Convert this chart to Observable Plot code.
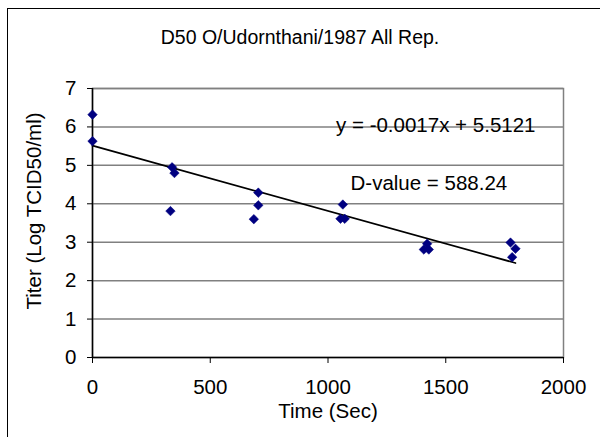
<!DOCTYPE html>
<html>
<head>
<meta charset="utf-8">
<script src="https://cdn.jsdelivr.net/npm/d3@7"></script>
<script src="https://cdn.jsdelivr.net/npm/@observablehq/plot@0.6"></script>
<style>
  html, body { margin: 0; padding: 0; background: #fff; }
  #wrap { position: relative; width: 600px; height: 437px; overflow: hidden; font-family: "Liberation Sans", Arial, sans-serif; }
  #frame { position: absolute; left: 7px; top: 8px; width: 620px; height: 460px; border-left: 1.5px solid #000; border-top: 1.5px solid #000; }
  #title { position: absolute; left: 0; width: 600px; top: 26px; text-align: center; font-size: 19.5px; color: #000; }
  #chart { position: absolute; left: 0; top: 0; }
</style>
</head>
<body>
<div id="wrap">
  <div id="frame"></div>
  <div id="chart"></div>
  <div id="title">D50 O/Udornthani/1987 All Rep.</div>
</div>
<script>
const titleText = "D50 O/Udornthani/1987 All Rep.";
const xLabel = "Time (Sec)";
const yLabel = "Titer (Log TCID50/ml)";
const xTicks = [0, 500, 1000, 1500, 2000];
const yTicks = [0, 1, 2, 3, 4, 5, 6, 7];
const times  = [0, 0, 338, 348, 331, 704, 704, 685, 1063, 1053, 1071, 1421, 1407, 1428, 1775, 1796, 1782];
const titers = [6.32, 5.63, 4.95, 4.80, 3.81, 4.29, 3.96, 3.60, 3.98, 3.61, 3.61, 2.96, 2.81, 2.81, 2.99, 2.83, 2.61];
const slope = -0.0017;
const intercept = 5.5121;
const equationText = "y = -0.0017x + 5.5121";
const dValueText = "D-value = 588.24";

const points = times.map((t, i) => ({time: t, titer: titers[i]}));
const [tMin, tMax] = d3.extent(times);
const trend = [tMin, tMax].map(t => ({time: t, titer: intercept + slope * t}));

const fontSize = 20.5;
const chart = Plot.plot({
  width: 600,
  height: 437,
  marginLeft: 92,
  marginRight: 37,
  marginTop: 88,
  marginBottom: 80,
  style: {fontFamily: '"Liberation Sans", Arial, sans-serif', fontSize: fontSize + "px", background: "transparent", color: "#000"},
  x: {domain: [0, 2000]},
  y: {domain: [0, 7]},
  marks: [
    Plot.frame({stroke: "#808080", strokeWidth: 1.5}),
    Plot.gridY(yTicks.filter(d => d > 0), {stroke: "#808080", strokeOpacity: 1, strokeWidth: 1.5}),
    Plot.ruleY([0], {stroke: "#000", strokeWidth: 1.5}),
    Plot.ruleX([0], {stroke: "#000", strokeWidth: 1.5}),
    Plot.axisX(xTicks, {tickSize: 6, tickPadding: 16, tickFormat: d3.format("d"), label: null, fontSize: fontSize, stroke: "#000"}),
    Plot.axisY(yTicks, {tickSize: 5, tickPadding: 11, tickFormat: d3.format("d"), label: null, fontSize: fontSize, stroke: "#000"}),
    Plot.text([xLabel], {frameAnchor: "bottom", dy: 60, fontSize: fontSize, fill: "#000"}),
    Plot.text([yLabel], {frameAnchor: "left", textAnchor: "middle", dx: -58, dy: -12, rotate: -90, fontSize: fontSize, fill: "#000"}),
    Plot.line(trend, {x: "time", y: "titer", stroke: "#000", strokeWidth: 1.7}),
    Plot.dot(points, {x: "time", y: "titer", symbol: "diamond2", r: 4.3, fill: "#000080", stroke: "#000080", strokeWidth: 0.5}),
    Plot.text([equationText], {frameAnchor: "top-right", textAnchor: "end", dx: -28, dy: 29, fontSize: fontSize, fill: "#000"}),
    Plot.text([dValueText], {frameAnchor: "top-left", textAnchor: "start", dx: 258, dy: 87, fontSize: fontSize, fill: "#000"})
  ]
});
document.getElementById("chart").appendChild(chart);
</script>
</body>
</html>
